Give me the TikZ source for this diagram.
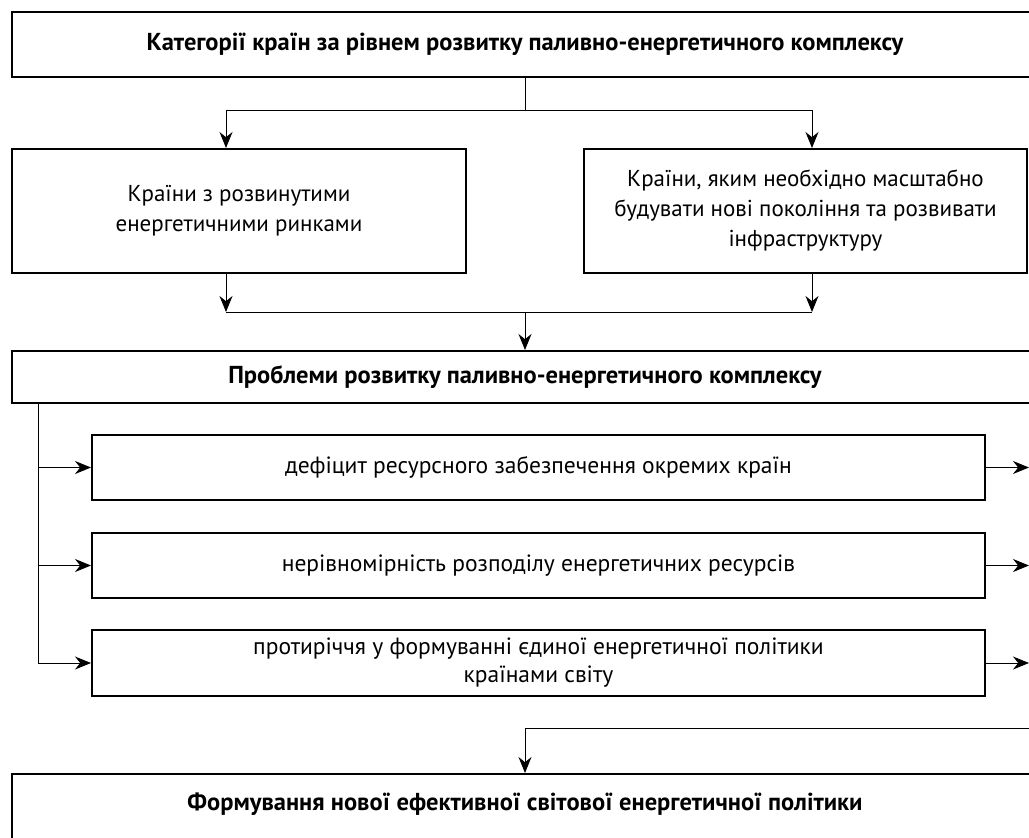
\documentclass[tikz,border=0pt]{standalone}
\usepackage{fontspec}
\setmainfont{PT Sans}
\usetikzlibrary{arrows.meta}
\tikzset{
  box/.style={draw, line width=2pt, align=center, inner sep=0pt},
  boldtxt/.style={font=\fontsize{24.5}{28}\selectfont\bfseries},
  wide/.style={box, boldtxt, minimum width=1026},
  item/.style={box, minimum width=893, minimum height=65, font=\fontsize{23.5}{28}\selectfont},
  side/.style={box, minimum height=124, font=\fontsize{23}{30}\selectfont},
  link/.style={line width=1pt},
  tip/.style={link, -{Stealth[length=16pt,width=13pt]}}
}
\begin{document}
\begin{tikzpicture}[x=1pt,y=-1pt]
    \useasboundingbox (0,0) rectangle (1029,838);
    \clip (0,0) rectangle (1029,838);
    % boxes
    \node[wide, minimum height=65] (kat) at (525,44.5) {Категорії країн за рівнем розвитку паливно-енергетичного комплексу};
    \node[side, minimum width=454] (razv) at (239,211) {Країни з розвинутими\\енергетичними ринками};
    \node[side, minimum width=443] (bud) at (805.5,211) {Країни, яким необхідно масштабно\\будувати нові покоління та розвивати\\інфраструктуру};
    \node[wide, minimum height=52] (probl) at (525,377) {Проблеми розвитку паливно-енергетичного комплексу};
    \node[item] (def) at (538.5,467.5) {дефіцит ресурсного забезпечення окремих країн};
    \node[item] (nerivn) at (538.5,565.5) {нерівномірність розподілу енергетичних ресурсів};
    \node[item, minimum height=66] (protyr) at (538.5,663) {протиріччя у формуванні єдиної енергетичної політики\\країнами світу};
    \node[wide, minimum height=90] (form) at (525,819) {};
    \node[boldtxt] (formtxt) at (525,804) {Формування нової ефективної світової енергетичної політики};
    % helper points
    \coordinate (j1) at (525,110);
    \coordinate (j2) at (525,312);
    \coordinate (lcol) at (226,0);
    \coordinate (rcol) at (812,0);
    \coordinate (trunk) at (38,0);
    \coordinate (redge) at (1029,728);
    % connectors
    \draw[link] (kat.south) -- (j1);
    \draw[link] (j1 -| lcol) -- (j1 -| rcol);
    \draw[tip] (j1 -| lcol) -- (razv.north -| lcol);
    \draw[tip] (j1 -| rcol) -- (bud.north -| rcol);
    \draw[tip] (razv.south -| lcol) -- (j2 -| lcol);
    \draw[tip] (bud.south -| rcol) -- (j2 -| rcol);
    \draw[link] (j2 -| lcol) -- (j2 -| rcol);
    \draw[tip] (j2) -- (probl.north);
    \draw[link] (probl.south -| trunk) -- (protyr.west -| trunk);
    \foreach \b in {def,nerivn,protyr} {
        \draw[tip] (\b.west -| trunk) -- (\b.west);
        \draw[tip] (\b.east) -- (\b.east -| redge);
    }
    \draw[tip] (redge) -| (form.north);
\end{tikzpicture}
\end{document}
